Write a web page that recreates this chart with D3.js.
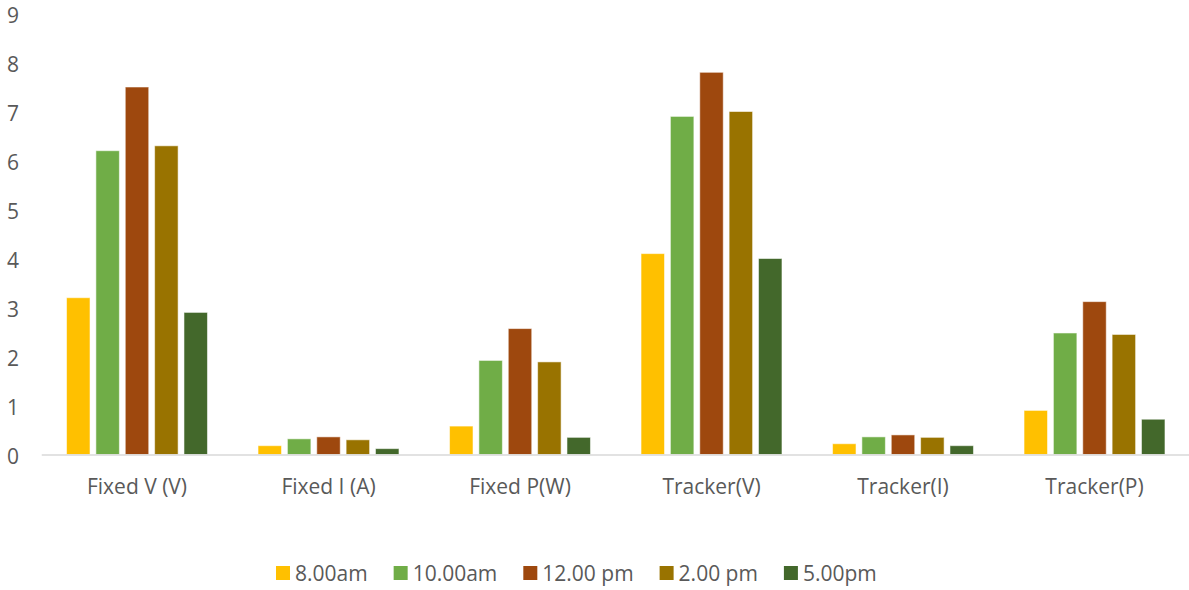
<!DOCTYPE html>
<html>
<head>
<meta charset="utf-8">
<script src="https://cdn.jsdelivr.net/npm/d3@7/dist/d3.min.js"></script>
<style>
  html, body { margin: 0; padding: 0; background: #ffffff; }
  svg { display: block; }
  text { font-family: "Open Sans", sans-serif; fill: #595959; }
</style>
</head>
<body>
<svg id="chart" width="1189" height="590"></svg>
<script>
// Measurements grouped along the x axis
const categories = ["Fixed V (V)", "Fixed I (A)", "Fixed P(W)", "Tracker(V)", "Tracker(I)", "Tracker(P)"];

// One series per time of day
const seriesNames = ["8.00am", "10.00am", "12.00 pm", "2.00 pm", "5.00pm"];
const am8   = [3.2, 0.18, 0.58, 4.1, 0.22, 0.9];
const am10  = [6.2, 0.32, 1.92, 6.9, 0.36, 2.48];
const pm12  = [7.5, 0.36, 2.57, 7.8, 0.40, 3.12];
const pm2   = [6.3, 0.30, 1.89, 7.0, 0.35, 2.45];
const pm5   = [2.9, 0.12, 0.35, 4.0, 0.18, 0.72];
const seriesValues = [am8, am10, pm12, pm2, pm5];

const yTicks = [0, 1, 2, 3, 4, 5, 6, 7, 8, 9];
const colors = ["#FFC000", "#70AD47", "#9E480E", "#997300", "#43682B"];

const svg = d3.select("#chart");

const plot = { left: 41.25, right: 1190.25, top: 13.5, bottom: 454.5 };

const y = d3.scaleLinear().domain([0, 9]).range([plot.bottom, plot.top]);

const x0 = d3.scaleBand()
  .domain(categories)
  .range([plot.left, plot.right])
  .paddingInner(0).paddingOuter(0);

const groupWidth = x0.bandwidth() * 0.736;
const x1 = d3.scaleBand()
  .domain(seriesNames)
  .range([0, groupWidth])
  .paddingInner(0.2).paddingOuter(0);

// Y axis labels (no line, no ticks)
const yAxis = svg.append("g")
  .attr("transform", `translate(19,0)`)
  .call(d3.axisLeft(y).tickValues(yTicks).tickSize(0).tickPadding(0).tickFormat(d3.format("d")));
yAxis.select(".domain").remove();
yAxis.selectAll("text")
  .attr("font-size", 21)
  .attr("font-family", "'Open Sans', sans-serif")
  .attr("fill", "#595959")
  .attr("dy", "0.38em")
  .attr("y", 1.5);

// Bars
const rows = seriesNames.map((name, i) => ({ name, color: colors[i], values: seriesValues[i] }));

const groups = svg.append("g")
  .selectAll("g")
  .data(categories)
  .join("g")
  .attr("transform", d => `translate(${x0(d) + (x0.bandwidth() - groupWidth) / 2},0)`);

groups.selectAll("rect")
  .data((cat, ci) => rows.map(r => ({ name: r.name, color: r.color, value: r.values[ci] })))
  .join("rect")
  .attr("x", d => x1(d.name))
  .attr("width", x1.bandwidth())
  .attr("y", d => y(d.value))
  .attr("height", d => y(0) - y(d.value))
  .attr("fill", d => d.color)
  .attr("stroke", "#ffffff")
  .attr("stroke-opacity", 0.55)
  .attr("stroke-width", 1);

// X axis: baseline and category labels
const xAxis = svg.append("g")
  .attr("transform", `translate(0,${plot.bottom})`)
  .call(d3.axisBottom(x0).tickSize(0).tickPadding(0).tickSizeOuter(0));
xAxis.select(".domain")
  .attr("stroke", "#D9D9D9")
  .attr("stroke-width", 1.5);
xAxis.selectAll("text")
  .attr("font-size", 21)
  .attr("font-family", "'Open Sans', sans-serif")
  .attr("fill", "#595959")
  .attr("dy", 0)
  .attr("y", 39.5);

// Legend
const legend = svg.append("g").attr("class", "legend");
let lx = 276;
rows.forEach(r => {
  const item = legend.append("g").attr("transform", `translate(${lx},0)`);
  item.append("rect")
    .attr("x", 0).attr("y", 566)
    .attr("width", 14).attr("height", 14)
    .attr("fill", r.color);
  const t = item.append("text")
    .attr("x", 19).attr("y", 581)
    .attr("font-size", 21)
    .text(r.name);
  const w = t.node().getComputedTextLength();
  lx += 19 + w + 26;
});
</script>
</body>
</html>
